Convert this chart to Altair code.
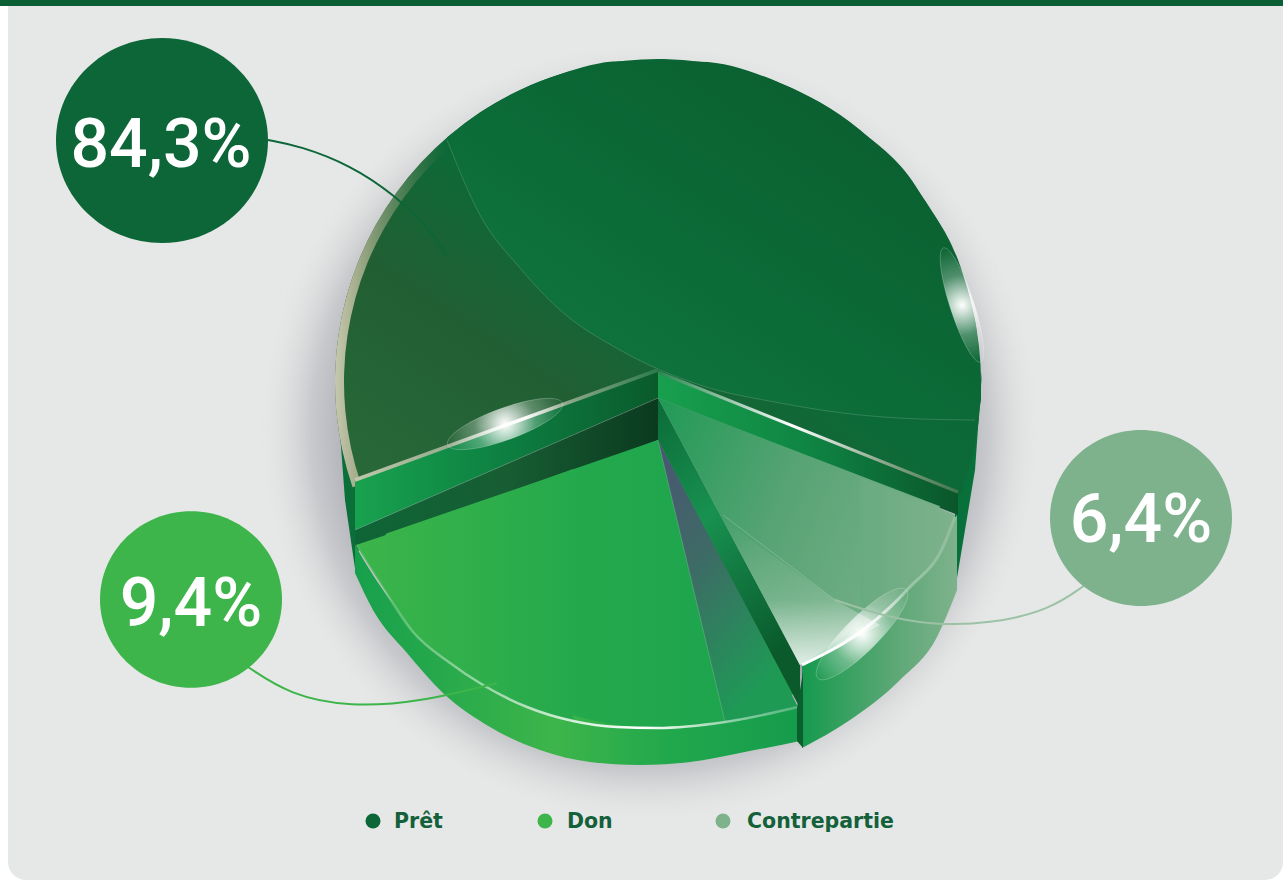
import math
import altair as alt
import pandas as pd

# Funding shares and their labels
names = ["Prêt", "Contrepartie", "Don"]
shares = [84.3, 6.4, 9.4]
labels = ["84,3%", "6,4%", "9,4%"]
colors = ["#0C6637", "#7EB28C", "#3DB54A"]

# Cumulative positions around the pie. The theta scale is piecewise so the
# slices keep the exploded perspective layout of this infographic rather than
# strictly proportional angles.
ends = [84.3, 90.7, 100.1]
starts = [0.0, 84.3, 90.7]
theta_range_deg = [-109, 111, 152, 251]

W, H = 1283, 880
X = alt.Scale(domain=[0, W], range=[0, W])
Y = alt.Scale(domain=[0, H], range=[0, H])
THETA = alt.Scale(domain=[0, 84.3, 90.7, 100.1],
                  range=[math.radians(a) for a in theta_range_deg])
table = pd.DataFrame({"name": names, "share": shares, "start": starts, "end": ends})


def linear(stops, x1=0, y1=0, x2=1, y2=0):
    return {"gradient": "linear", "x1": x1, "y1": y1, "x2": x2, "y2": y2,
            "stops": [{"offset": o, "color": c} for o, c in stops]}


def radial(stops):
    return {"gradient": "radial", "x1": .5, "y1": .5, "x2": .5, "y2": .5, "r1": 0, "r2": .5,
            "stops": [{"offset": o, "color": c} for o, c in stops]}


def wedge(name, cx, cy, radius, fill, inner=0, opacity=1):
    return (alt.Chart(table[table.name == name])
            .mark_arc(radius=radius, radius2=inner, fill=fill, opacity=opacity)
            .encode(theta=alt.Theta("start:Q", scale=THETA), theta2="end:Q",
                    x=alt.value(cx), y=alt.value(cy)))


def area(xs, ys, ys2, fill, interpolate="linear"):
    df = pd.DataFrame({"x": xs, "y": ys, "y2": ys2})
    return (alt.Chart(df).mark_area(fill=fill, opacity=1, interpolate=interpolate)
            .encode(x=alt.X("x:Q", scale=X, axis=None), y=alt.Y("y:Q", scale=Y, axis=None), y2="y2:Q"))


def line(xs, ys, stroke, width=1, interpolate="linear"):
    df = pd.DataFrame({"x": xs, "y": ys, "i": range(len(xs))})
    return (alt.Chart(df).mark_line(stroke=stroke, strokeWidth=width, interpolate=interpolate)
            .encode(x=alt.X("x:Q", scale=X, axis=None), y=alt.Y("y:Q", scale=Y, axis=None), order="i:Q"))


def panel(x, y, x2, y2, fill, corner=0):
    return (alt.Chart(pd.DataFrame({"k": [0]})).mark_rect(fill=fill, cornerRadius=corner)
            .encode(x=alt.value(x), x2=alt.value(x2), y=alt.value(y), y2=alt.value(y2)))


ELLIPSE = "M-1,0 A1,{b} 0 1,1 1,0 A1,{b} 0 1,1 -1,0 Z"


def disc(x, y, diameter, fill, shape="circle"):
    return (alt.Chart(pd.DataFrame({"x": [x], "y": [y]}))
            .mark_point(filled=True, fill=fill, size=diameter ** 2, opacity=1, shape=shape)
            .encode(x=alt.X("x:Q", scale=X, axis=None), y=alt.Y("y:Q", scale=Y, axis=None)))


def glint(x, y, length, ratio, angle):
    fill = radial([(0, "#ffffff"), (.14, "rgba(255,255,255,0.8)"), (.5, "rgba(255,255,255,0.28)"), (1, "rgba(255,255,255,0)")])
    return (alt.Chart(pd.DataFrame({"x": [x], "y": [y]}))
            .mark_point(filled=True, fill=fill, stroke="rgba(255,255,255,0.3)", strokeWidth=.7, opacity=1,
                        size=length ** 2, angle=angle, shape=ELLIPSE.format(b=ratio))
            .encode(x=alt.X("x:Q", scale=X, axis=None), y=alt.Y("y:Q", scale=Y, axis=None)))


def caption(text, x, y, size, color, weight, align="center", font="Roboto"):
    return (alt.Chart(pd.DataFrame({"x": [x], "y": [y], "t": [text]}))
            .mark_text(font=font, fontSize=size, fontWeight=weight, color=color, align=align,
                       baseline="alphabetic")
            .encode(x=alt.X("x:Q", scale=X, axis=None), y=alt.Y("y:Q", scale=Y, axis=None), text="t:N"))


# Upper sheen of the large slice, bounded by the disc edge and a soft curve
sheen_x = [447, 480, 520, 560, 620, 700, 780, 860, 920, 975, 981]
sheen_low = [140, 215, 268, 310, 350, 385, 403, 415, 419, 420, 400]
sheen_top = [382 - math.sqrt(max(0, 323 ** 2 - (v - 658) ** 2)) for v in sheen_x]

# Outline of the Don slice: rim of the top face, lower edge of its wall
don_rim_x = [356, 383, 413, 450, 483, 527, 573, 617, 657, 725, 798]
don_rim_y = [545, 588, 632, 663, 685, 707, 721, 727, 728, 722, 707]
don_face_y = [545, 536, 525, 512, 501, 486, 469]
don_wall_x = [355, 373, 407, 443, 490, 540, 590, 640, 690, 740, 800]
don_wall_y = [573, 610, 653, 693, 727, 750, 762, 765, 762, 753, 741]
don_wall_top = [545, 575, 620, 655, 680, 700, 715, 720, 720, 715, 705]

# Outline of the small slice: rim of the top face, lower edge of its wall
small_rim_x = [802, 867, 910, 943, 955]
small_rim_y = [665, 627, 587, 547, 517]
small_wall_x = [802, 850, 900, 937, 957]
small_wall_y = [748, 720, 680, 637, 590]
small_wall_top = [665, 627, 580, 540, 515]

layers = [
    panel(0, 0, W, H, "#FFFFFF"),
    panel(8, 0, W, H, "#E6E8E7", 18),
    panel(8, 0, 60, 60, "#E6E8E7"),
    panel(W - 60, 0, W, 60, "#E6E8E7"),
    panel(0, 0, W, 6, "#0C5F35"),
    # drop shadow behind the pie
    disc(650, 432, 790, radial([(0, "#9c9ca6"), (.72, "#a6a6af"), (.86, "#c9cacd"), (1, "rgba(230,232,231,0)")])),
    # outer walls of the large slice
    area([336, 345, 352, 356], [380, 460, 470, 475], [380, 500, 548, 575], "#0A6F38"),
    area([955, 975, 982], [480, 420, 372], [590, 470, 372], "#08703A"),
    # large slice: top face, rim, sheen
    wedge("Prêt", 658, 382, 323, linear([(0, "#2A6A39"), (.3, "#215F33"), (.5, "#0C6A38"), (1, "#0C5F32")], 0, 1, 1, 0)),
    wedge("Prêt", 658, 382, 323, linear([(0, "#C5C8AE"), (.03, "#A9B08F"), (.17, "rgba(110,140,100,0)"), (1, "rgba(110,140,100,0)")]), inner=314),
    area(sheen_x, sheen_top, sheen_low, linear([(0, "#137A40"), (.5, "#0B6A37"), (1, "#0B5A2C")], 0, 1, 1, 0), "monotone"),
    line(sheen_x[:-1], sheen_low[:-1], "rgba(255,255,255,0.22)", .7, "monotone"),
    # cut faces left of the apex
    area([355, 658], [480, 370], [530, 398], linear([(0, "#18A24F"), (.5, "#0D7F41"), (1, "#0A5A2C")])),
    area([355, 658], [530, 398], [552, 440], linear([(0, "#0E6536"), (.5, "#175D33"), (1, "#0B3A1F")])),
    line([355, 658], [530, 398], "rgba(255,255,255,0.25)", .7),
    line([355, 658], [480, 370], linear([(0, "#BFC7AC"), (.3, "#98AD8F"), (.55, "#FFFFFF"), (.7, "#8FA88A"), (1, "#2C7B4A")]), 3.5),
    # cut faces right of the apex
    area([658, 958], [372, 492], [398, 515], linear([(0, "#18A04E"), (.5, "#0F8543"), (1, "#0A562B")])),
    line([658, 958], [372, 492], linear([(0, "#2A8650"), (.45, "#FFFFFF"), (.75, "#8CA88D"), (1, "#41764F")]), 3),
    # small slice wall
    area(small_wall_x, small_wall_top, small_wall_y, linear([(0, "#169A4E"), (.6, "#5DA876"), (1, "#7EB28C")]), "monotone"),
    # Don: wall, face, rim
    area(don_wall_x, don_wall_top, don_wall_y, linear([(0, "#17A04C"), (.45, "#3DB54A"), (.7, "#22A84C"), (1, "#159C4C")]), "monotone"),
    wedge("Don", 658, 440, 288, linear([(0, "#3CB54A"), (.45, "#24A94C"), (1, "#1BA24E")])),
    area(don_rim_x[:7], don_face_y, don_rim_y[:7], linear([(0, "#3CB54A"), (1, "#25A94C")]), "monotone"),
    # inner fold of the Don slice
    area([658, 725, 798], [440, 722, 707], [440, 565, 707], linear([(0, "#4A5573"), (.45, "#3E6A66"), (1, "#1E9A55")], 0, 0, .5, 1)),
    line([658, 725], [440, 722], "rgba(255,255,255,0.25)", .7),
    line(don_rim_x, don_rim_y, linear([(0, "rgba(255,255,255,0.1)"), (.25, "rgba(255,255,255,0.45)"), (.5, "rgba(255,255,255,0.8)"), (.65, "#FFFFFF"), (.85, "rgba(255,255,255,0.5)"), (1, "rgba(255,255,255,0.25)")]), 2.5, "monotone"),
    # cut face of the small slice
    area([658, 800], [398, 665], [440, 708], linear([(0, "#0B6B37"), (.45, "#189150"), (1, "#0A5A2C")], 0, 0, .4, 1)),
    area([797, 803], [708, 672], [741, 748], "#0B5F2F"),
    # small slice top face
    wedge("Contrepartie", 658, 398, 302, linear([(0, "#209A55"), (.5, "#56A373"), (1, "#76AF88")], 0, 0, 1, .4)),
    area([860, 867, 910, 943, 955], [478, 480, 497, 510, 515], [600, 627, 587, 547, 517], linear([(0, "#69AB80"), (1, "#7EB28C")]), "monotone"),
    area([723, 800, 835, 880], [520, 575, 600, 625], [520, 665, 648, 625], linear([(0, "rgba(255,255,255,0)"), (.55, "rgba(255,255,255,0.15)"), (1, "rgba(255,255,255,0.8)")], 0, 0, 0, 1)),
    line([723, 835], [515, 600], "rgba(255,255,255,0.3)", .7),
    line(small_rim_x, small_rim_y, linear([(0, "#FFFFFF"), (.4, "#F4F8F5"), (.7, "rgba(255,255,255,0.3)"), (1, "rgba(255,255,255,0.15)")]), 3, "monotone"),
    # highlights
    glint(505, 424, 122, .26, 340),
    glint(862, 634, 125, .27, 315),
    glint(962, 305, 120, .2, 72),
    # connectors
    line([268, 300, 350, 395, 430, 447], [140, 146, 165, 195, 230, 255], "#0C6637", 2, "basis"),
    line([248, 290, 350, 420, 497], [667, 695, 707, 702, 683], "#3DB54A", 2, "basis"),
    line([1085, 1050, 990, 930, 880, 835], [585, 610, 624, 625, 615, 600], "#9CC2A6", 2, "basis"),
    # value bubbles
    disc(162, 140.5, 212, colors[0], ELLIPSE.format(b=.967)),
    disc(191, 599.5, 182, colors[2], ELLIPSE.format(b=.97)),
    disc(1141, 518, 182, colors[1], ELLIPSE.format(b=.967)),
    caption(labels[0], 161, 167, 68, "#FFFFFF", 500),
    caption(labels[2], 191, 626, 68, "#FFFFFF", 500),
    caption(labels[1], 1141, 542, 68, "#FFFFFF", 500),
    # legend
    disc(373, 821, 15, colors[0]),
    disc(545, 821, 15, colors[2]),
    disc(723, 821, 15, colors[1]),
    caption("Prêt", 394, 828, 20.5, "#14603A", 700, "left", "DejaVu Sans"),
    caption("Don", 567, 828, 20.5, "#14603A", 700, "left", "DejaVu Sans"),
    caption("Contrepartie", 747, 828, 20.5, "#14603A", 700, "left", "DejaVu Sans"),
]

chart = (alt.layer(*layers)
         .properties(width=W, height=H, padding=0, background="#FFFFFF",
                     autosize=alt.AutoSizeParams(type="none"))
         .configure_view(stroke=None))

chart.save("out.html", embed_options={"renderer": "svg", "actions": False})
